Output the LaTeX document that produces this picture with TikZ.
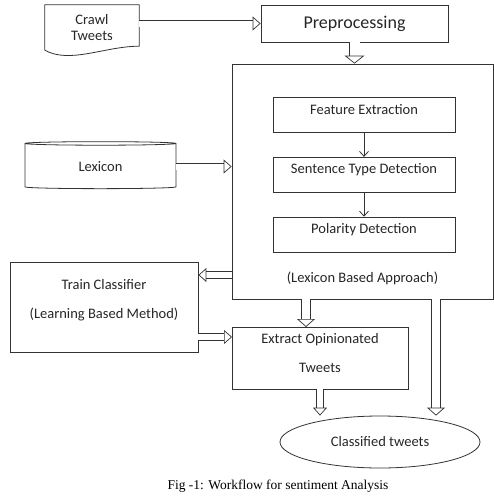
\documentclass[tikz,border=0pt]{standalone}
\usepackage{fontspec}
\setmainfont{Carlito}
\newfontfamily\capfont{Liberation Serif}
\usetikzlibrary{positioning, shapes, arrows.meta}

\tikzset{
  procbox/.style = {draw=black!80, line width=0.8pt, rectangle, inner sep=0pt},
  stepbox/.style = {procbox, minimum width=182pt, minimum height=35pt, inner ysep=0pt, text height=16.5pt, text depth=18.5pt},
  txt/.style = {inner sep=0pt, text height=10pt, text depth=3pt},
  flow/.style = {draw=black!80, double, double distance=6pt, line width=0.7pt, -{Triangle[open, length=8pt, width=14pt, line width=0.7pt]}},
  flowwide/.style = {flow, double distance=10pt, -{Triangle[open, length=8pt, width=20pt, line width=0.7pt]}},
}

\begin{document}
\begin{tikzpicture}[x=1pt, y=-1pt, font=\fontsize{14.5}{16}\selectfont, text=black!85]
        \useasboundingbox (0,0) rectangle (494,498);
        \node[inner sep=0pt, minimum width=94pt, minimum height=45pt, align=center] (crawl) at (92,27.5) {Crawl\\Tweets};
        \node[procbox, minimum width=187pt, minimum height=37pt, font=\fontsize{18}{20}\selectfont] (prep) at (354.5,23.5) {Preprocessing};
        \node[procbox, minimum width=261pt, minimum height=235pt] (lexbox) at (362.5,181.5) {};
        \node[stepbox] (feat) at (364,115) {Feature Extraction};
        \node[stepbox, below=24pt of feat] (sent) {Sentence Type Detection};
        \node[stepbox, below=24pt of sent] (pol) {Polarity Detection};
        \node[txt] (lexlbl) at (362.5,279) {(Lexicon Based Approach)};
        \node[cylinder, shape border rotate=90, shape aspect=0.07, draw=black!80, line width=0.8pt, minimum width=151pt, minimum height=47pt] (lexicon) at (100.5,166.5) {Lexicon};
        %---------------------------
        \node[procbox, minimum width=188pt, minimum height=90pt] (train) at (104,307) {};
        \node[txt] (trainA) at (104,285.5) {Train Classifier};
        \node[txt] (trainB) at (104,314.5) {(Learning Based Method)};
        \node[procbox, minimum width=176pt, minimum height=62pt] (extract) at (320,358) {};
        \node[txt] (extractA) at (320,339.5) {Extract Opinionated};
        \node[txt] (extractB) at (320,368.5) {Tweets};
        \node[ellipse, draw=black!80, line width=0.8pt, minimum width=200pt, minimum height=52pt] (cls) at (380,442) {Classified tweets};
        \node[txt, text=black, font=\capfont\fontsize{13.5}{15}\selectfont] (caption) at (278,486) {Fig -1: Workflow for sentiment Analysis};
        %--------------------------
        \draw[procbox] (crawl.south west) -- (crawl.north west) -- (crawl.north east) -- ([yshift=4pt]crawl.south east)
          .. controls +(-34,0) and +(25,14) .. (crawl.south west);
        \coordinate (lt) at (232,275);
        \coordinate (te) at (232,337);
        \coordinate (le) at (306,327);
        \coordinate (lc) at (436,299);
        \draw[flow] (crawl.east |- prep.west) -- (prep.west);
        \draw[flowwide] (prep.south) -- (prep.south |- lexbox.north);
        \draw[flow] (lexicon.east) -- (lexicon.east -| lexbox.west);
        \draw[flow] (lt) -- (lt -| train.east);
        \draw[flow] (train.east |- te) -- (te);
        \draw[flow, double distance=8pt, -{Triangle[open, length=8pt, width=18pt, line width=0.7pt]}] (lexbox.south -| le) -- (le);
        \draw[flow] (extract.south) -- (extract.south |- cls.north);
        \draw[flow, double distance=8pt, -{Triangle[open, length=8pt, width=18pt, line width=0.7pt]}] (lc) -- (lc |- cls.north);
        \path[draw=black!80, line width=0.8pt, -{Straight Barb[length=5pt, width=9pt]}]
        (feat) edge (sent)
        (sent) edge (pol);
\end{tikzpicture}
\end{document}
